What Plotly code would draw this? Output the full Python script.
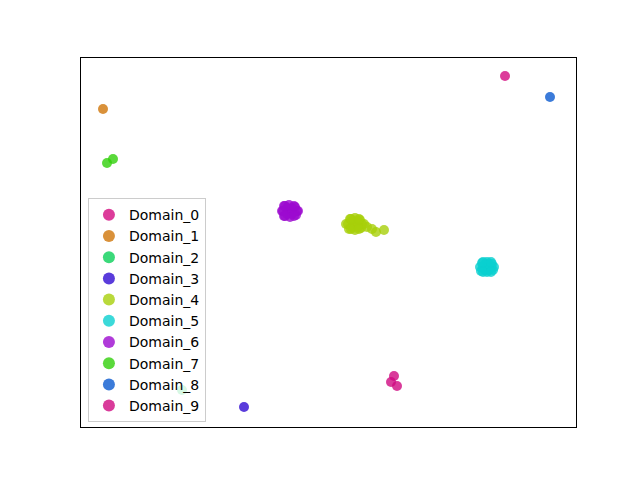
import plotly.graph_objects as go

names = ["Domain_0", "Domain_1", "Domain_2", "Domain_3", "Domain_4",
         "Domain_5", "Domain_6", "Domain_7", "Domain_8", "Domain_9"]
colors = ["#d30b81", "#d07609", "#0ad059", "#310bd2", "#a7d00a",
          "#0ad0d0", "#9c0ad0", "#31d00a", "#0a5ad0", "#cf0a81"]

# embedding coordinates (arbitrary units)
xs = {
    "Domain_0": [505],
    "Domain_1": [103],
    "Domain_2": [182],
    "Domain_3": [244],
    "Domain_4": [350, 355, 360, 349, 355, 361, 355, 348, 362, 352, 358, 352, 358,
                 346, 364, 351, 359, 351, 359,
                 367, 372, 376, 384],
    "Domain_5": [482, 487, 492, 481, 487, 493, 487, 483, 491, 485, 489, 485, 489,
                 480, 494, 483, 491, 483, 491],
    "Domain_6": [284, 289, 295, 284, 290, 296, 290, 283, 297, 287, 292, 287, 292,
                 282, 298, 285, 294, 285, 294],
    "Domain_7": [107, 113],
    "Domain_8": [550],
    "Domain_9": [394, 391, 397],
}
ys = {
    "Domain_0": [76],
    "Domain_1": [109],
    "Domain_2": [390],
    "Domain_3": [407],
    "Domain_4": [219, 218, 220, 229, 230, 228, 224, 224, 224, 221, 221, 227, 227,
                 224, 224, 219, 219, 229, 229,
                 227, 229, 232, 230],
    "Domain_5": [263, 262, 264, 271, 272, 270, 267, 267, 267, 264, 264, 270, 270,
                 267, 267, 262, 262, 272, 272],
    "Domain_6": [206, 205, 207, 216, 217, 215, 211, 211, 211, 208, 208, 214, 214,
                 211, 211, 206, 206, 216, 216],
    "Domain_7": [163, 159],
    "Domain_8": [97],
    "Domain_9": [376, 382, 386],
}

fig = go.Figure()
for n, c in zip(names, colors):
    fig.add_trace(go.Scatter(
        x=xs[n], y=ys[n], mode="markers", name=n,
        marker=dict(color=c, size=10, opacity=0.8, line=dict(width=0)),
    ))

fig.update_layout(
    width=640, height=480,
    margin=dict(l=73, r=72, t=50, b=61),
    plot_bgcolor="white", paper_bgcolor="white",
    font=dict(family="DejaVu Sans", size=14, color="black"),
    showlegend=True,
    legend=dict(x=0.014, y=0.013, xanchor="left", yanchor="bottom",
                bgcolor="rgba(255,255,255,0.8)", bordercolor="#cccccc",
                borderwidth=1, font=dict(size=14), itemsizing="constant"),
)
axis = dict(showticklabels=False, ticks="", showgrid=False, zeroline=False,
            showline=True, linecolor="black", linewidth=1, mirror=True)
fig.update_xaxes(range=[81, 576], **axis)
fig.update_yaxes(range=[427, 58], **axis)

fig.write_html("out.html")
